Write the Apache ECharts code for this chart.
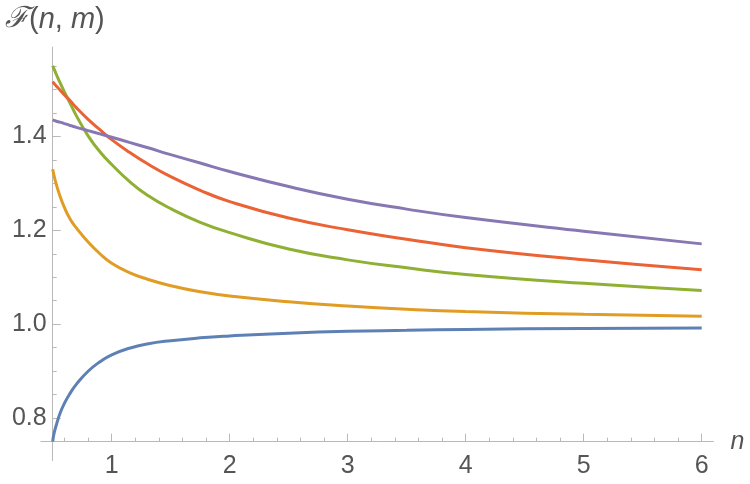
<!DOCTYPE html>
<html>
<head>
<meta charset="utf-8">
<script src="https://cdn.jsdelivr.net/npm/echarts@6/dist/echarts.min.js"></script>
<style>
  html, body { margin: 0; padding: 0; background: #fff; }
  #chart { width: 750px; height: 484px; }
</style>
</head>
<body>
<div id="chart"></div>
<script>
const nValues = [0.5, 0.51, 0.53, 0.56, 0.6, 0.65, 0.7, 0.8, 0.9, 1, 1.15, 1.3, 1.5, 1.75, 2, 2.5, 3, 3.5, 4, 5, 6]

const blueVals   = [0.750, 0.766, 0.785, 0.809, 0.832, 0.854, 0.872, 0.900, 0.920, 0.935, 0.949, 0.958, 0.965, 0.971, 0.975, 0.981, 0.985, 0.987, 0.989, 0.991, 0.992]
const orangeVals = [1.330, 1.318, 1.298, 1.274, 1.248, 1.223, 1.205, 1.175, 1.150, 1.130, 1.110, 1.096, 1.082, 1.069, 1.060, 1.048, 1.039, 1.032, 1.027, 1.021, 1.017]
const greenVals  = [1.550, 1.544, 1.532, 1.515, 1.494, 1.469, 1.444, 1.401, 1.367, 1.340, 1.304, 1.275, 1.246, 1.217, 1.195, 1.160, 1.137, 1.120, 1.106, 1.087, 1.072]
const redVals    = [1.516, 1.513, 1.507, 1.499, 1.488, 1.475, 1.461, 1.436, 1.414, 1.393, 1.366, 1.342, 1.314, 1.285, 1.261, 1.226, 1.201, 1.181, 1.163, 1.137, 1.116]
const purpleVals = [1.435, 1.434, 1.432, 1.430, 1.427, 1.423, 1.419, 1.412, 1.405, 1.398, 1.387, 1.376, 1.361, 1.343, 1.325, 1.293, 1.266, 1.245, 1.227, 1.198, 1.171]

const xTickLabels = [1, 2, 3, 4, 5, 6]
const yTickLabels = [0.8, 1.0, 1.2, 1.4]

const colors = ['#5E81B5', '#E19C24', '#8FB032', '#EB6235', '#8778B3']
const axisColor = '#b9b9b9'
const textColor = '#555555'
const font = 'Liberation Sans'

// minor ticks: 0.2 on n, 0.05 on F
const xMinor = []
for (let i = 3; i <= 30; i++) {
  const v = +(i * 0.2).toFixed(2)
  if (Math.abs(v - Math.round(v)) > 1e-6) xMinor.push(v)
}
const yMinor = []
for (let i = 17; i <= 31; i++) {
  const v = +(i * 0.05).toFixed(2)
  if (Math.abs(v * 5 - Math.round(v * 5)) > 1e-6) yMinor.push(v)
}

const xMin = 0.4, xMax = 6.1
const yMin = 0.71, yMax = 1.59

const pairs = vals => nValues.map((n, i) => [n, vals[i]])

function xAxisOpt(major) {
  return {
    type: 'value',
    position: 'bottom',
    min: xMin,
    max: xMax,
    offset: -18.8,
    splitLine: { show: false },
    axisLine: { show: major, onZero: false, lineStyle: { color: axisColor, width: 1 } },
    axisTick: {
      show: true,
      inside: true,
      length: major ? 8 : 4,
      customValues: major ? xTickLabels : xMinor,
      lineStyle: { color: axisColor }
    },
    axisLabel: {
      show: major,
      customValues: xTickLabels,
      margin: 12,
      color: textColor,
      fontSize: 25,
      fontFamily: font
    },
    name: major ? 'n' : '',
    nameLocation: 'end',
    nameGap: 17,
    nameTextStyle: {
      color: textColor,
      fontSize: 25,
      fontStyle: 'italic',
      fontFamily: font,
      verticalAlign: 'middle'
    }
  }
}

function yAxisOpt(major) {
  return {
    type: 'value',
    position: 'left',
    min: yMin,
    max: yMax,
    offset: -11.8,
    splitLine: { show: false },
    axisLine: { show: major, onZero: false, lineStyle: { color: axisColor, width: 1 } },
    axisTick: {
      show: true,
      inside: true,
      length: major ? 8 : 4,
      customValues: major ? yTickLabels : yMinor,
      lineStyle: { color: axisColor }
    },
    axisLabel: {
      show: major,
      customValues: yTickLabels,
      margin: 6,
      color: textColor,
      fontSize: 25,
      fontFamily: font,
      formatter: v => v.toFixed(1)
    }
  }
}

const seriesData = [blueVals, orangeVals, greenVals, redVals, purpleVals]

const chart = echarts.init(document.getElementById('chart'))
chart.setOption({
  animation: false,
  title: {
    text: '{f|ℱ}{p|(}{i|n}{p|, }{i|m}{p|)}',
    left: 0,
    top: 0,
    textStyle: {
      fontWeight: 'normal',
      rich: {
        f: { fontSize: 29, color: textColor, fontFamily: 'DejaVu Serif', fontStyle: 'italic', fontWeight: 'normal' },
        p: { fontSize: 29, color: textColor, fontFamily: font, fontWeight: 'normal' },
        i: { fontSize: 29, color: textColor, fontFamily: font, fontStyle: 'italic', fontWeight: 'normal' }
      }
    }
  },
  grid: {
    left: 40.9,
    right: 36.5,
    top: 47,
    bottom: 23.5,
    containLabel: false
  },
  xAxis: [xAxisOpt(true), xAxisOpt(false)],
  yAxis: [yAxisOpt(true), yAxisOpt(false)],
  series: seriesData.map((vals, k) => ({
    type: 'line',
    xAxisIndex: 0,
    yAxisIndex: 0,
    data: pairs(vals),
    smooth: 0.5,
    symbol: 'none',
    lineStyle: { color: colors[k], width: 3 },
    itemStyle: { color: colors[k] }
  }))
})
</script>
</body>
</html>
